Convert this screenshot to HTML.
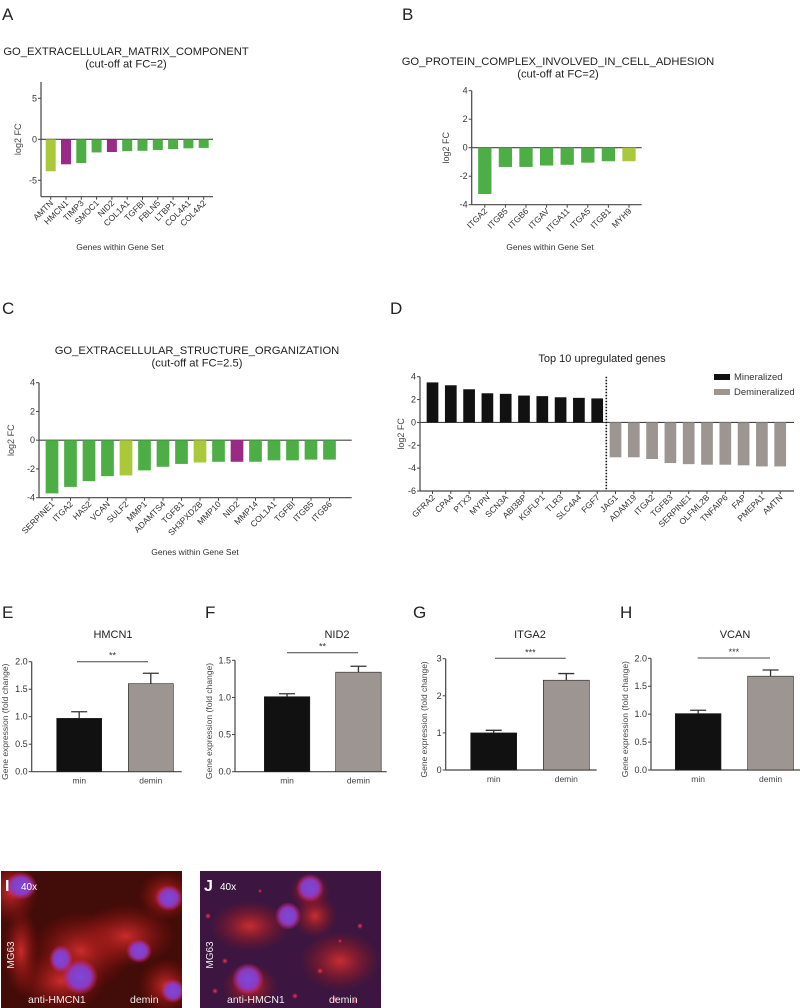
<!DOCTYPE html>
<html><head><meta charset="utf-8"><style>
html,body{margin:0;padding:0;background:#fff;}
svg{display:block;font-family:"Liberation Sans",sans-serif;}
</style></head><body>
<svg id="fig" width="800" height="1008" viewBox="0 0 800 1008" xmlns="http://www.w3.org/2000/svg">
<defs>
<radialGradient id="nuc"><stop offset="0" stop-color="#7a4ad8"/><stop offset="0.6" stop-color="#8a3ac0"/><stop offset="1" stop-color="#e0207a" stop-opacity="0"/></radialGradient>
<radialGradient id="cyto"><stop offset="0" stop-color="#d83030" stop-opacity="0.9"/><stop offset="1" stop-color="#a01010" stop-opacity="0"/></radialGradient>
<radialGradient id="dot"><stop offset="0" stop-color="#ff3050"/><stop offset="1" stop-color="#ff3050" stop-opacity="0"/></radialGradient>
<clipPath id="clipI"><rect x="1" y="871" width="181" height="137"/></clipPath>
<clipPath id="clipJ"><rect x="200" y="871" width="181" height="137"/></clipPath>
</defs>
<g id="root"></g>
</svg>
<script>
// ---- Panel A data ----
const aGenes = ["AMTN","HMCN1","TIMP3","SMOC1","NID2","COL1A1","TGFBI","FBLN5","LTBP1","COL4A1","COL4A2"];
const aValues = [-3.9,-3.05,-2.9,-1.6,-1.55,-1.45,-1.4,-1.3,-1.2,-1.1,-1.05];
const aGroups = ["l","p","g","g","p","g","g","g","g","g","g"];
const aTicks = [5,0,-5];
// ---- Panel B data ----
const bGenes = ["ITGA2","ITGB5","ITGB6","ITGAV","ITGA11","ITGA5","ITGB1","MYH9"];
const bValues = [-3.25,-1.35,-1.35,-1.25,-1.2,-1.05,-0.95,-0.95];
const bGroups = ["g","g","g","g","g","g","g","l"];
const bTicks = [4,2,0,-2,-4];
// ---- Panel C data ----
const cGenes = ["SERPINE1","ITGA2","HAS2","VCAN","SULF2","MMP1","ADAMTS4","TGFB1","SH3PXD2B","MMP10","NID2","MMP14","COL1A1","TGFBI","ITGB5","ITGB6"];
const cValues = [-3.7,-3.25,-2.85,-2.5,-2.45,-2.1,-1.85,-1.65,-1.55,-1.5,-1.5,-1.5,-1.4,-1.4,-1.35,-1.35];
const cGroups = ["g","g","g","g","l","g","g","g","l","g","p","g","g","g","g","g"];
const cTicks = [4,2,0,-2,-4];
// ---- Panel D data ----
const dGenes = ["GFRA2","CPA4","PTX3","MYPN","SCN3A","ABI3BP","KGFLP1","TLR3","SLC4A4","FGF7","JAG1","ADAM19","ITGA2","TGFB3","SERPINE1","OLFML2B","TNFAIP6","FAP","PMEPA1","AMTN"];
const dValues = [3.5,3.25,2.9,2.55,2.5,2.35,2.3,2.2,2.15,2.1,-3.05,-3.05,-3.2,-3.55,-3.65,-3.7,-3.7,-3.75,-3.85,-3.85];
const dGroups = ["k","k","k","k","k","k","k","k","k","k","y","y","y","y","y","y","y","y","y","y"];
const dTicks = [4,2,0,-2,-4,-6];
// ---- Panels E-H data ----
const qCats = ["min","demin"];
const eMeans = [0.97,1.6];  const eErr = [0.12,0.19];  const eTicks = [0,0.5,1.0,1.5,2.0];
const fMeans = [1.01,1.34]; const fErr = [0.04,0.08];  const fTicks = [0,0.5,1.0,1.5];
const gMeans = [1.0,2.42];  const gErr = [0.07,0.18];  const gTicks = [0,1,2,3];
const hMeans = [1.01,1.68]; const hErr = [0.06,0.11];  const hTicks = [0,0.5,1.0,1.5,2.0];

const NS="http://www.w3.org/2000/svg";
const root=document.getElementById('root');
const COLORS={g:"#4cae45",l:"#a9c93a",p:"#9b2a86",k:"#111111",y:"#9c9591"};
function mk(tag,attrs,parent){const el=document.createElementNS(NS,tag);for(const k in attrs)el.setAttribute(k,attrs[k]);(parent||root).appendChild(el);return el;}
function txt(s,x,y,size,anchor,parent,extra){const t=mk('text',Object.assign({x:x,y:y,'font-size':size,'text-anchor':anchor||'start',fill:'#222'},extra||{}),parent);t.textContent=s;return t;}

function linScale(d0,d1,r0,r1){return v=>r0+(v-d0)*(r1-r0)/(d1-d0);}

function geneChart(o){
  const g=mk('g',{});
  
  
  const y=linScale(o.ymin,o.ymax,o.y0,o.y1);
  const fmt=o.fmt||(v=>String(v));
  const ya=mk('line',{x1:o.ax,y1:y(o.ymax),x2:o.ax,y2:y(o.ymin),stroke:'#444','stroke-width':1.2},g);
  
  
  const xa=mk('line',{x1:o.ax,y1:y(o.ymin),x2:o.xend,y2:y(o.ymin),stroke:'#444','stroke-width':1.2},g);
  
  
  const zl=mk('line',{x1:o.ax,y1:y(0),x2:o.xend,y2:y(0),stroke:'#444','stroke-width':1.2},g);
  
  
  o.ticks.forEach(t=>{
    mk('line',{x1:o.ax-3,y1:y(t),x2:o.ax,y2:y(t),stroke:'#444','stroke-width':1},g);
    const tl=txt(fmt(t),o.ax-4,y(t)+3,9,'end',g,{fill:'#333'});
    
    
  });
  o.genes.forEach((gn,i)=>{
    const cx=o.x0+i*o.step;
    const v=o.values[i];
    const top=Math.min(y(v),y(0)),h=Math.abs(y(v)-y(0));
    const b=mk('rect',{x:cx-o.bw/2,y:top,width:o.bw,height:h,fill:COLORS[o.groups[i]]},g);
    
    
    mk('line',{x1:cx,y1:y(o.ymin),x2:cx,y2:y(o.ymin)+3,stroke:'#444','stroke-width':1},g);
    const lx=cx+3,ly=y(o.ymin)+7;
    const l=txt(gn,lx,ly,8.5,'end',g,{transform:'rotate(-45 '+lx+' '+ly+')',fill:'#333'});
    
    
  });
  if(o.ylabel){const yl=txt('log2 FC',o.ylx,(y(o.ymax)+y(o.ymin))/2,9,'middle',g,{transform:'rotate(-90 '+o.ylx+' '+(y(o.ymax)+y(o.ymin))/2+')',fill:'#444'});
    
    }
  return {g:g,y:y};
}

[["A",2,20],["B",402,20],["C",2,314],["D",390,314],["E",2,618],["F",205,618],["G",413,618],["H",620,618]].forEach(p=>{
  const t=txt(p[0],p[1],p[2],17,'start',root,{fill:'#222'});
  
  
});

function title(lines,x,y,size,name){
  lines.forEach((s,i)=>{const t=txt(s,x,y+i*12.5,size,'middle',root,{fill:'#222'});
    
    });
}

title(["GO_EXTRACELLULAR_MATRIX_COMPONENT","(cut-off at FC=2)"],126,55,11.2,'chart-title-a');
geneChart({name:'chart-a',genes:aGenes,values:aValues,groups:aGroups,ticks:aTicks,ymin:-7,ymax:7,y0:(139.3+ (7*8.2)),y1:(139.3-(7*8.2)),ax:41,xend:213,x0:50.7,step:15.3,bw:10,ylabel:true,ylx:21});
(function(){const t=txt('Genes within Gene Set',120,250,8.5,'middle',root,{fill:'#333'});})();

title(["GO_PROTEIN_COMPLEX_INVOLVED_IN_CELL_ADHESION","(cut-off at FC=2)"],558,65,11.2,'chart-title-b');
geneChart({name:'chart-b',genes:bGenes,values:bValues,groups:bGroups,ticks:bTicks,ymin:-4,ymax:4,y0:204.7,y1:90.7,ax:471.7,xend:641.7,x0:484.8,step:20.6,bw:13.3,ylabel:true,ylx:449});
(function(){const t=txt('Genes within Gene Set',550,250,8.5,'middle',root,{fill:'#333'});})();

title(["GO_EXTRACELLULAR_STRUCTURE_ORGANIZATION","(cut-off at FC=2.5)"],197,354,11.2,'chart-title-c');
geneChart({name:'chart-c',genes:cGenes,values:cValues,groups:cGroups,ticks:cTicks,ymin:-4,ymax:4,y0:497.7,y1:382.7,ax:39,xend:351.7,x0:52,step:18.5,bw:12.7,ylabel:true,ylx:14});
(function(){const t=txt('Genes within Gene Set',195,555,8.5,'middle',root,{fill:'#333'});})();

title(["Top 10 upregulated genes"],602,362,11,'chart-title-d');
const D=geneChart({name:'chart-d',genes:dGenes,values:dValues,groups:dGroups,ticks:dTicks,ymin:-6,ymax:4,y0:491,y1:376.7,ax:420,xend:794,x0:432.5,step:18.3,bw:11.7,ylabel:true,ylx:404});
(function(){
  const sep=mk('line',{x1:606.3,y1:D.y(4),x2:606.3,y2:D.y(-6),stroke:'#111','stroke-width':1.6,'stroke-dasharray':'1.5,1.5'});
  
  
  const k1=mk('rect',{x:714,y:374,width:16,height:6,fill:COLORS.k});
  
  
  const t1=txt('Mineralized',734,380,9.5,'start',root,{fill:'#333'});
  
  
  const k2=mk('rect',{x:714,y:389,width:16,height:6,fill:COLORS.y});
  
  
  const t2=txt('Demineralized',734,395,9.5,'start',root,{fill:'#333'});
  
  
})();

function qChart(o){
  const g=mk('g',{});
  
  
  const y=linScale(0,o.ymax,o.y0,o.y1);
  const ya=mk('line',{x1:o.ax,y1:o.y1,x2:o.ax,y2:o.y0,stroke:'#444','stroke-width':1.2},g);
  
  
  const xa=mk('line',{x1:o.ax,y1:o.y0,x2:o.xend,y2:o.y0,stroke:'#444','stroke-width':1.2},g);
  
  
  o.ticks.forEach(t=>{
    mk('line',{x1:o.ax-3,y1:y(t),x2:o.ax,y2:y(t),stroke:'#444','stroke-width':1},g);
    const tl=txt(o.dec?t.toFixed(1):String(t),o.ax-4,y(t)+3,9,'end',g,{fill:'#333'});
    
    
  });
  const cols=[COLORS.k,COLORS.y];
  qCats.forEach((c,i)=>{
    const x=o.bx[i];
    const eb=mk('line',{x1:x+o.bw/2,y1:y(o.means[i]),x2:x+o.bw/2,y2:y(o.means[i]+o.err[i]),stroke:'#333','stroke-width':1.3},g);
    
    
    const ec=mk('line',{x1:x+o.bw/2-8,y1:y(o.means[i]+o.err[i]),x2:x+o.bw/2+8,y2:y(o.means[i]+o.err[i]),stroke:'#333','stroke-width':1.3},g);
    
    
    const b=mk('rect',{x:x,y:y(o.means[i]),width:o.bw,height:o.y0-y(o.means[i]),fill:cols[i],stroke:'#222','stroke-width':0.6},g);
    
    
    const l=txt(c,x+o.bw/2,o.y0+12,8.5,'middle',g,{fill:'#444'});
    
    
  });
  const s=mk('line',{x1:o.sx[0],y1:o.sy,x2:o.sx[1],y2:o.sy,stroke:'#444','stroke-width':1},g);
  
  
  const st=txt(o.stars,(o.sx[0]+o.sx[1])/2,o.sy-3,9,'middle',g,{fill:'#333'});
  
  
  const tt=txt(o.title,o.tx,638,11,'middle',g,{fill:'#222'});
  
  
  const cy=(o.y0+o.y1)/2+5;
  const yl=txt('Gene expression (fold change)',o.ylx,cy,8.5,'middle',g,{transform:'rotate(-90 '+o.ylx+' '+cy+')',fill:'#444'});
  
  
}
qChart({name:'chart-e-hmcn1',title:'HMCN1',tx:113,means:eMeans,err:eErr,ticks:eTicks,dec:true,ymax:2.0,y0:771.7,y1:661.7,ax:31.7,xend:181.7,bx:[56.7,128.3],bw:45,sx:[77,148],sy:661.7,stars:'**',ylx:8});
qChart({name:'chart-f-nid2',title:'NID2',tx:337,means:fMeans,err:fErr,ticks:fTicks,dec:true,ymax:1.5,y0:771.7,y1:660.3,ax:235,xend:386.7,bx:[264.3,335.7],bw:45.5,sx:[287,358],sy:652.7,stars:'**',ylx:212});
qChart({name:'chart-g-itga2',title:'ITGA2',tx:530,means:gMeans,err:gErr,ticks:gTicks,dec:false,ymax:3,y0:770,y1:658.7,ax:445.7,xend:596.7,bx:[470.7,543.3],bw:46,sx:[495,565.7],sy:658.3,stars:'***',ylx:427});
qChart({name:'chart-h-vcan',title:'VCAN',tx:735,means:hMeans,err:hErr,ticks:hTicks,dec:true,ymax:2.0,y0:770,y1:658.3,ax:651,xend:800,bx:[675.3,747.7],bw:45.7,sx:[697.7,770],sy:658,stars:'***',ylx:628});

function micro(o){
  const g=mk('g',{'clip-path':'url(#'+o.clip+')'});
  
  
  const bg=mk('rect',{x:o.x,y:871,width:o.w,height:137,fill:o.bg},g);
  
  
  o.cyto.forEach(c=>mk('ellipse',{cx:o.x+c[0],cy:871+c[1],rx:c[2],ry:c[3],fill:'url(#cyto)'},g));
  o.nuc.forEach(c=>mk('ellipse',{cx:o.x+c[0],cy:871+c[1],rx:c[2],ry:c[3],fill:'url(#nuc)'},g));
  (o.dots||[]).forEach(c=>mk('circle',{cx:o.x+c[0],cy:871+c[1],r:c[2],fill:'url(#dot)'},g));
  const l=txt(o.letter,o.x+4,891,16,'start',g,{fill:'#fff','font-weight':'bold'});
  
  
  const m=txt('40x',o.x+20,890,10,'start',g,{fill:'#fff'});
  
  
  const cl=txt('MG63',o.x+13,955,10,'middle',g,{fill:'#eee',transform:'rotate(-90 '+(o.x+13)+' 955)'});
  
  
  const ab=txt('anti-HMCN1',o.x+27,1003,10.5,'start',g,{fill:'#eee'});
  
  
  const cd=txt('demin',o.x+o.w-52,1003,10.5,'start',g,{fill:'#eee'});
  
  
}
micro({name:'micrograph-i',clip:'clipI',letter:'I',x:1,w:181,bg:'#420c08',
  cyto:[[10,20,28,34],[165,25,28,25],[80,80,50,40],[125,65,50,32],[60,110,45,32],[165,115,28,28],[20,80,18,45]],
  nuc:[[20,15,16,14],[168,27,14,13],[60,88,12,14],[79,106,18,18],[138,80,13,12],[172,120,12,12]]});
micro({name:'micrograph-j',clip:'clipJ',letter:'J',x:200,w:181,bg:'#3c1640',
  cyto:[[115,45,22,22],[50,55,40,25],[50,115,28,22],[110,20,20,18],[140,90,40,30]],
  nuc:[[110,17,14,14],[88,45,13,14],[48,108,16,16]],
  dots:[[8,45,3],[25,90,3],[160,55,3],[120,100,3],[155,130,3],[60,20,2],[140,70,2],[95,125,3],[15,120,3],[135,128,3]]});
</script>
</body></html>
